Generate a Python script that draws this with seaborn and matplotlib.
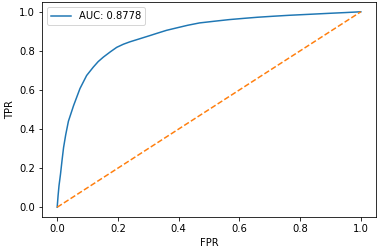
import matplotlib
matplotlib.use("Agg")
import matplotlib.pyplot as plt
import seaborn as sns

# ROC curve points
fpr = [0.0, 0.003, 0.006, 0.011, 0.016, 0.021, 0.028, 0.037, 0.054, 0.075,
       0.097, 0.119, 0.135, 0.152, 0.175, 0.196, 0.218, 0.239, 0.272, 0.305,
       0.327, 0.36, 0.392, 0.43, 0.469, 0.52, 0.567, 0.62, 0.66, 0.71,
       0.764, 0.83, 0.895, 0.95, 1.0]
tpr = [0.0, 0.06, 0.11, 0.17, 0.24, 0.305, 0.37, 0.44, 0.52, 0.607,
       0.674, 0.717, 0.745, 0.768, 0.795, 0.818, 0.834, 0.846, 0.862, 0.878,
       0.889, 0.905, 0.917, 0.931, 0.943, 0.952, 0.960, 0.967, 0.972, 0.977,
       0.982, 0.987, 0.992, 0.996, 1.0]
chance = [0.0, 1.0]
auc_label = "AUC: 0.8778"

fig = plt.figure(figsize=(380 / 72, 247 / 72), dpi=72)
ax = fig.add_axes([42 / 380, 1 - 217 / 247, 334 / 380, 215 / 247])

sns.lineplot(x=fpr, y=tpr, sort=False, estimator=None, color="C0",
             label=auc_label, ax=ax)
sns.lineplot(x=chance, y=chance, sort=False, estimator=None, color="C1",
             linestyle="--", ax=ax)

ax.set_xlabel("FPR")
ax.set_ylabel("TPR")
ax.legend(loc="upper left")

fig.savefig("out.png", dpi=72)
